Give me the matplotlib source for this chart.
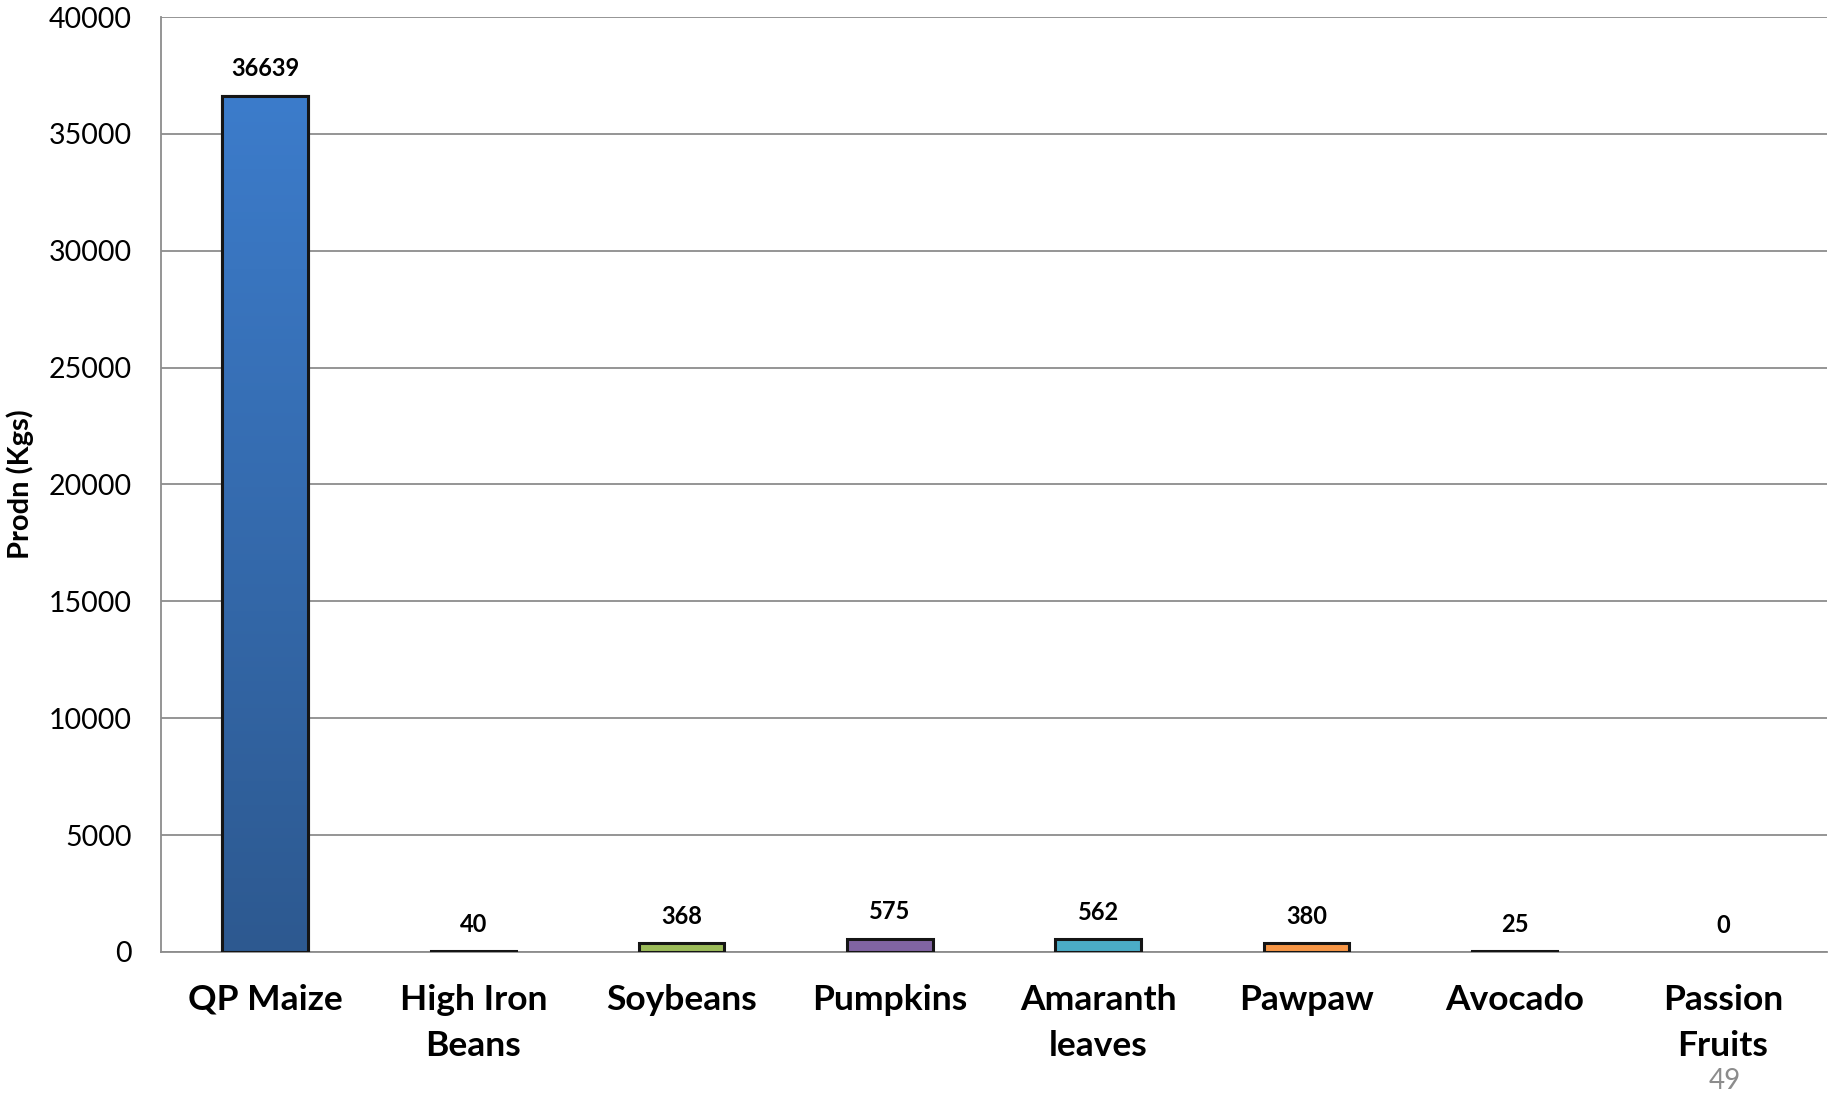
import numpy as np
import matplotlib
matplotlib.use('Agg')
import matplotlib.pyplot as plt
from matplotlib.colors import LinearSegmentedColormap

plt.rcParams['font.family'] = ['Lato', 'DejaVu Sans']

crops = ['QP Maize', 'High Iron\nBeans', 'Soybeans', 'Pumpkins', 'Amaranth\nleaves',
         'Pawpaw', 'Avocado', 'Passion\nFruits']
prodn = [36639, 40, 368, 575, 562, 380, 25, 0]
bar_colors = ['#3A74BE', '#C0504D', '#9BBB59', '#8064A2', '#4BACC6', '#F79646', '#4F81BD', '#C0504D']
yticks = [0, 5000, 10000, 15000, 20000, 25000, 30000, 35000, 40000]

fig = plt.figure(figsize=(18.33, 10.97), dpi=100)
ax = fig.add_axes([0.0878, 0.1322, 0.909, 0.8523])

x = np.arange(len(crops))
bars = ax.bar(x, prodn, width=0.41, color=bar_colors, edgecolor='#151515', linewidth=2.2, zorder=3)
for b in bars:
    if b.get_height() == 0:
        b.set_linewidth(0)

# vertical gradient on the tall bar
grad = LinearSegmentedColormap.from_list('g', ['#2D5990', '#3C7CCB'])
b = bars[0]
img = ax.imshow(np.linspace(0, 1, 256).reshape(-1, 1), cmap=grad, origin='lower', aspect='auto',
                extent=(b.get_x(), b.get_x() + b.get_width(), 0, b.get_height()), zorder=3.5)
img.set_clip_path(b)
ax.bar(x[:1], prodn[:1], width=0.41, color='none', edgecolor='#151515', linewidth=2.2, zorder=4)

for xi, v in zip(x, prodn):
    ax.annotate(str(v), (xi, v), xytext=(0, 11), textcoords='offset points',
                ha='center', va='bottom', fontsize=17, fontweight='bold')

ax.set_xlim(-0.5, len(crops) - 0.5)
ax.set_ylim(0, 40000)
ax.set_yticks(yticks)
ax.set_yticklabels([str(t) for t in yticks], fontsize=20.5)
ax.set_xticks(x)
ax.set_xticklabels(crops, fontsize=25.5, fontweight='bold', linespacing=1.55)
ax.tick_params(axis='both', length=0)
ax.tick_params(axis='y', pad=21)
ax.tick_params(axis='x', pad=23)
ax.yaxis.grid(True, color='#8C8C8C', linewidth=1.3)
ax.set_axisbelow(True)
for s in ['top', 'right']:
    ax.spines[s].set_visible(False)
for s in ['left', 'bottom']:
    ax.spines[s].set_color('#8C8C8C')
    ax.spines[s].set_linewidth(1.3)

ax.set_ylabel('Prodn (Kgs)', fontsize=21, fontweight='bold')
ax.yaxis.set_label_coords(-0.076, 0.5)

fig.text(0.941, 0.003, '49', fontsize=20, color='#8C8C8C', ha='center', va='bottom')

fig.savefig('out.png', dpi=100)
